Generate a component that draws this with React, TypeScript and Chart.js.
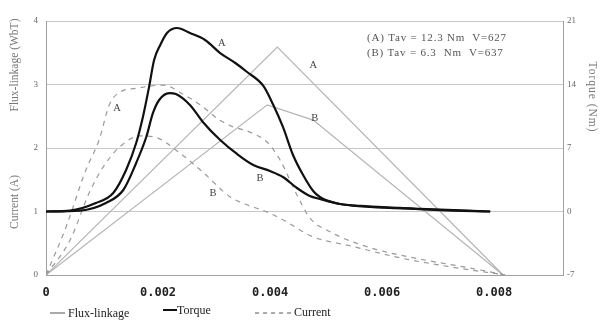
import React, { useEffect, useRef } from "react";
import { Chart, registerables } from "chart.js";

Chart.register(...registerables);

// ---- data (time in ms) ----
const torqueATime = [0, 0.43, 0.89, 1.2, 1.43, 1.61, 1.73, 1.84, 1.93, 2.04, 2.16, 2.34, 2.57, 2.84, 3.11, 3.38, 3.59, 3.88, 4.05, 4.23, 4.41, 4.59, 4.77, 4.89, 5.16, 5.61, 6.32, 7.04, 7.93];
const torqueAValue = [0, 0.1, 0.94, 2.04, 4.58, 7.55, 10.42, 13.73, 16.7, 18.36, 19.68, 20.23, 19.68, 18.91, 17.47, 16.37, 15.38, 13.84, 11.85, 9.32, 6.23, 4.02, 2.26, 1.6, 0.94, 0.61, 0.39, 0.15, 0];

const torqueBTime = [0, 0.61, 1.07, 1.38, 1.61, 1.79, 1.91, 2.02, 2.2, 2.32, 2.57, 2.8, 3.11, 3.41, 3.7, 4.0, 4.23, 4.48, 4.71, 4.89, 5.25, 5.79, 6.68, 7.93];
const torqueBValue = [0, 0.1, 0.94, 2.37, 5.35, 8.21, 10.86, 12.29, 13.06, 12.95, 11.74, 9.87, 7.88, 6.34, 5.13, 4.46, 3.8, 2.59, 1.71, 1.38, 0.83, 0.5, 0.28, 0];

const fluxATime = [0, 4.13, 8.16];
const fluxAValue = [0, 3.59, 0];
const fluxBTime = [0, 3.95, 4.77, 8.16];
const fluxBValue = [0, 2.68, 2.44, 0];

const currentATime = [0, 0.36, 0.71, 0.95, 1.13, 1.32, 1.61, 2.09, 2.48, 2.8, 3.05, 3.29, 3.64, 3.95, 4.18, 4.48, 4.71, 5.07, 5.79, 6.68, 7.57, 8.2];
const currentAValue = [0, 0.76, 1.65, 2.13, 2.68, 2.88, 2.94, 2.99, 2.83, 2.65, 2.47, 2.35, 2.25, 2.09, 1.81, 1.26, 0.9, 0.68, 0.43, 0.25, 0.11, 0];

const currentBTime = [0, 0.43, 0.77, 1.02, 1.32, 1.68, 1.95, 2.39, 2.8, 3.29, 3.95, 4.23, 4.77, 5.43, 6.32, 7.21, 8.2];
const currentBValue = [0, 0.55, 1.29, 1.7, 2.02, 2.19, 2.17, 1.92, 1.62, 1.23, 0.99, 0.87, 0.6, 0.46, 0.27, 0.13, 0];

// curve labels
const curveLabelText = ["A", "B", "A", "B", "A", "B"];
const curveLabelAxis = ["y2", "y2", "y", "y", "y", "y"];
const curveLabelTime = [3.14, 3.82, 4.77, 4.8, 1.27, 2.98];
const curveLabelValue = [18.6, 3.7, 3.31, 2.47, 2.63, 1.29];

const infoLines = ["(A) Tav = 12.3 Nm  V=627", "(B) Tav = 6.3  Nm  V=637"];
const legendNames = ["Flux-linkage", "Torque", "Current"];

const xMin = 0;
const xMax = 0.00923;
const xStep = 0.002;
const leftMin = 0, leftMax = 4, leftStep = 1;
const rightMin = -7, rightMax = 21, rightStep = 7;

const pts = (t: number[], v: number[]) => t.map((tt, i) => ({ x: tt / 1000, y: v[i] }));

const SERIF = '"Liberation Serif", "Times New Roman", serif';

const overlayPlugin = {
  id: "overlay",
  afterDatasetsDraw(chart: any) {
    const ctx = chart.ctx as CanvasRenderingContext2D;
    const ca = chart.chartArea;
    ctx.save();
    // curve labels
    ctx.fillStyle = "#444";
    ctx.font = `10.5px ${SERIF}`;
    ctx.textAlign = "center";
    ctx.textBaseline = "middle";
    curveLabelText.forEach((txt, i) => {
      const x = chart.scales.x.getPixelForValue(curveLabelTime[i] / 1000);
      const y = chart.scales[curveLabelAxis[i]].getPixelForValue(curveLabelValue[i]);
      ctx.fillText(txt, x, y);
    });
    // info text
    ctx.fillStyle = "#555";
    ctx.textAlign = "left";
    ctx.font = `11px ${SERIF}`;
    (ctx as any).letterSpacing = "0.8px";
    ctx.fillText(infoLines[0], ca.right - 196, ca.top + 17);
    ctx.fillText(infoLines[1], ca.right - 196, ca.top + 32);
    ctx.restore();
  },
  afterDraw(chart: any) {
    const ctx = chart.ctx as CanvasRenderingContext2D;
    const ca = chart.chartArea;
    ctx.save();
    // left axis titles
    ctx.fillStyle = "#777";
    ctx.font = `11.5px ${SERIF}`;
    ctx.textAlign = "center";
    ctx.textBaseline = "middle";
    ctx.translate(15, 0);
    ctx.rotate(-Math.PI / 2);
    ctx.fillText("Flux-linkage (WbT)", -(ca.top + 44), 0);
    ctx.fillText("Current (A)", -(ca.top + 181), 0);
    ctx.restore();

    ctx.save();
    ctx.fillStyle = "#777";
    ctx.font = `11.5px ${SERIF}`;
    (ctx as any).letterSpacing = "1px";
    ctx.textAlign = "center";
    ctx.textBaseline = "middle";
    ctx.translate(592, ca.top + 76);
    ctx.rotate(Math.PI / 2);
    ctx.fillText("Torque (Nm)", 0, 0);
    ctx.restore();

    // legend
    ctx.save();
    const ly = 313;
    ctx.font = `12px ${SERIF}`;
    ctx.fillStyle = "#222";
    ctx.textBaseline = "middle";
    ctx.textAlign = "left";
    // flux
    ctx.strokeStyle = "#555";
    ctx.lineWidth = 1;
    ctx.beginPath();
    ctx.moveTo(50, ly);
    ctx.lineTo(65, ly);
    ctx.stroke();
    ctx.fillText(legendNames[0], 68, ly + 1);
    // torque
    ctx.strokeStyle = "#111";
    ctx.lineWidth = 2;
    ctx.beginPath();
    ctx.moveTo(163, ly - 3);
    ctx.lineTo(177, ly - 3);
    ctx.stroke();
    ctx.fillText(legendNames[1], 177, ly - 2);
    // current
    ctx.strokeStyle = "#555";
    ctx.lineWidth = 1;
    ctx.setLineDash([4, 4]);
    ctx.beginPath();
    ctx.moveTo(255, ly);
    ctx.lineTo(291, ly);
    ctx.stroke();
    ctx.setLineDash([]);
    ctx.fillText(legendNames[2], 294, ly);
    ctx.restore();
  },
};

export default function App() {
  const ref = useRef<HTMLCanvasElement | null>(null);
  useEffect(() => {
    document.body.style.margin = "0";
    const canvas = ref.current;
    if (!canvas) return;
    const chart = new Chart(canvas, {
      type: "line",
      data: {
        datasets: [
          {
            label: "Torque A",
            data: pts(torqueATime, torqueAValue),
            yAxisID: "y2",
            borderColor: "#111",
            borderWidth: 2.2,
            cubicInterpolationMode: "monotone",
            pointRadius: 0,
          },
          {
            label: "Torque B",
            data: pts(torqueBTime, torqueBValue),
            yAxisID: "y2",
            borderColor: "#111",
            borderWidth: 2.2,
            cubicInterpolationMode: "monotone",
            pointRadius: 0,
          },
          {
            label: "Current A",
            data: pts(currentATime, currentAValue),
            yAxisID: "y",
            borderColor: "#9a9a9a",
            borderWidth: 1.2,
            borderDash: [5, 5],
            cubicInterpolationMode: "monotone",
            pointRadius: 0,
          },
          {
            label: "Current B",
            data: pts(currentBTime, currentBValue),
            yAxisID: "y",
            borderColor: "#9a9a9a",
            borderWidth: 1.2,
            borderDash: [5, 5],
            cubicInterpolationMode: "monotone",
            pointRadius: 0,
          },
          {
            label: "Flux A",
            data: pts(fluxATime, fluxAValue),
            yAxisID: "y",
            borderColor: "#b4b4b4",
            borderWidth: 1.2,
            tension: 0,
            pointRadius: 0,
          },
          {
            label: "Flux B",
            data: pts(fluxBTime, fluxBValue),
            yAxisID: "y",
            borderColor: "#b4b4b4",
            borderWidth: 1.2,
            tension: 0,
            pointRadius: 0,
          },
        ],
      },
      options: {
        responsive: false,
        animation: false,
        events: [],
        layout: { padding: { top: 21, bottom: 31, left: 0, right: 0 } },
        plugins: { legend: { display: false }, tooltip: { enabled: false } },
        scales: {
          x: {
            type: "linear",
            min: xMin,
            max: xMax,
            grid: { display: false, drawTicks: false },
            border: { color: "#a0a0a0", width: 1 },
            ticks: {
              stepSize: xStep,
              includeBounds: false,
              padding: 11,
              maxRotation: 0,
              color: "#222",
              font: { family: '"DejaVu Sans Mono", monospace', size: 12, weight: "bold" },
              callback: (v: any) => (Number(v) === 0 ? "0" : Number(v).toFixed(3)),
            },
            afterFit: (s: any) => {
              s.height = 25;
            },
          },
          y: {
            type: "linear",
            position: "left",
            min: leftMin,
            max: leftMax,
            grid: { color: "#c8c8c8", lineWidth: 1, drawTicks: false },
            border: { color: "#a0a0a0", width: 1 },
            ticks: {
              stepSize: leftStep,
              padding: 8,
              color: "#666",
              font: { family: SERIF, size: 9 },
            },
            afterFit: (s: any) => {
              s.width = 46;
            },
          },
          y2: {
            type: "linear",
            position: "right",
            min: rightMin,
            max: rightMax,
            grid: { display: false, drawTicks: false },
            border: { color: "#a0a0a0", width: 1 },
            ticks: {
              stepSize: rightStep,
              padding: 4,
              color: "#666",
              font: { family: SERIF, size: 9 },
            },
            afterFit: (s: any) => {
              s.width = 38;
            },
          },
        },
      },
      plugins: [overlayPlugin],
    });
    return () => chart.destroy();
  }, []);
  return (
    <div style={{ width: 601, height: 331, background: "#fff" }}>
      <canvas ref={ref} width={601} height={331} />
    </div>
  );
}
